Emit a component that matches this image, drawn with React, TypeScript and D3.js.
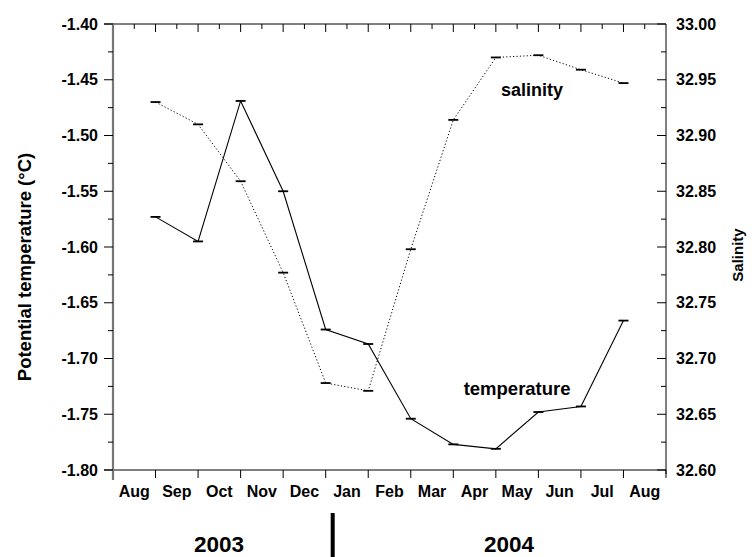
import React from "react";
import * as d3 from "d3";

const months = ["Aug", "Sep", "Oct", "Nov", "Dec", "Jan", "Feb", "Mar", "Apr", "May", "Jun", "Jul", "Aug"];
const sampleIndex = [1, 2, 3, 4, 5, 6, 7, 8, 9, 10, 11, 12];
const temperature = [-1.573, -1.595, -1.469, -1.55, -1.674, -1.687, -1.754, -1.777, -1.781, -1.748, -1.743, -1.666];
const salinity = [32.93, 32.91, 32.859, 32.777, 32.678, 32.671, 32.798, 32.914, 32.97, 32.972, 32.959, 32.947];
const tempTicks = [-1.4, -1.45, -1.5, -1.55, -1.6, -1.65, -1.7, -1.75, -1.8];
const salTicks = [33.0, 32.95, 32.9, 32.85, 32.8, 32.75, 32.7, 32.65, 32.6];
const years = ["2003", "2004"];

const W = 756;
const H = 557;
const left = 113;
const right = 666;
const top = 24;
const bottom = 470;
const FONT = "'Liberation Sans', Arial, sans-serif";

export default function App() {
  const x = d3.scaleLinear().domain([0, months.length]).range([left, right]);
  const yT = d3.scaleLinear().domain([-1.8, -1.4]).range([bottom, top]);
  const yS = d3.scaleLinear().domain([32.6, 33.0]).range([bottom, top]);

  const tempLine = d3
    .line<number>()
    .x((_, i) => x(sampleIndex[i]))
    .y((d) => yT(d));
  const salLine = d3
    .line<number>()
    .x((_, i) => x(sampleIndex[i]))
    .y((d) => yS(d));

  const monthBounds = d3.range(0, months.length + 1);
  const halfBounds = d3.range(0, months.length).map((i) => i + 0.5);
  const tMinor = d3.range(0, 8).map((i) => -1.8 + 0.025 + i * 0.05);
  const sMinor = d3.range(0, 8).map((i) => 32.6 + 0.025 + i * 0.05);

  return (
    <svg
      width={W}
      height={H}
      style={{ position: "absolute", left: 0, top: 0, background: "#fff" }}
      fontFamily={FONT}
      fontWeight="bold"
    >
      <rect x={0} y={0} width={W} height={H} fill="#fff" />
      {/* top axis */}
      <line x1={left - 9} x2={right} y1={top} y2={top} stroke="#000" strokeWidth={1} />
      {monthBounds.slice(1, -1).map((m) => (
        <line key={"tt" + m} x1={x(m)} x2={x(m)} y1={top} y2={top + 8} stroke="#000" />
      ))}
      {halfBounds.map((m) => (
        <line key={"th" + m} x1={x(m)} x2={x(m)} y1={top} y2={top + 5} stroke="#000" />
      ))}
      {/* bottom axis */}
      <line x1={left - 9} x2={right} y1={bottom} y2={bottom} stroke="#000" strokeWidth={1} />
      {monthBounds.slice(1, -1).map((m) => (
        <line key={"bt" + m} x1={x(m)} x2={x(m)} y1={bottom} y2={bottom + 8} stroke="#000" />
      ))}
      <line x1={right} x2={right} y1={bottom} y2={bottom + 8} stroke="#000" />
      {months.map((m, i) => (
        <text key={"ml" + i} x={x(i + 0.5)} y={497} textAnchor="middle" fontSize={16}>
          {m}
        </text>
      ))}
      {/* left axis */}
      <line x1={left} x2={left} y1={top - 1} y2={bottom + 10} stroke="#777" strokeWidth={2.2} />
      {tempTicks.map((t) => (
        <g key={"lt" + t}>
          <line x1={left - 9} x2={left} y1={yT(t)} y2={yT(t)} stroke="#000" />
          <text x={98} y={yT(t)} dy="0.35em" textAnchor="end" fontSize={16}>
            {d3.format(".2f")(t).replace("−", "-")}
          </text>
        </g>
      ))}
      {tMinor.map((t) => (
        <line key={"lm" + t} x1={left - 5} x2={left} y1={yT(t)} y2={yT(t)} stroke="#000" />
      ))}
      {/* right axis */}
      <line x1={right} x2={right} y1={top} y2={bottom + 4} stroke="#000" strokeWidth={1} />
      {salTicks.map((t) => (
        <g key={"rt" + t}>
          <line x1={right - 9} x2={right} y1={yS(t)} y2={yS(t)} stroke="#000" />
          <text x={676} y={yS(t)} dy="0.35em" textAnchor="start" fontSize={16}>
            {d3.format(".2f")(t)}
          </text>
        </g>
      ))}
      {sMinor.map((t) => (
        <line key={"rm" + t} x1={right - 5} x2={right} y1={yS(t)} y2={yS(t)} stroke="#000" />
      ))}
      {/* axis titles */}
      <text
        transform={`translate(31, ${(top + bottom) / 2 + 20}) rotate(-90)`}
        textAnchor="middle"
        fontSize={18.5}
      >
        Potential temperature (°C)
      </text>
      <text
        transform={`translate(743, ${(top + bottom) / 2 + 8}) rotate(-90)`}
        textAnchor="middle"
        fontSize={15}
      >
        Salinity
      </text>
      {/* series */}
      <path d={salLine(salinity) || ""} fill="none" stroke="#000" strokeWidth={1} strokeDasharray="1.2,2.2" />
      <path d={tempLine(temperature) || ""} fill="none" stroke="#000" strokeWidth={1.1} />
      {salinity.map((v, i) => (
        <line
          key={"sm" + i}
          x1={x(sampleIndex[i]) - 5}
          x2={x(sampleIndex[i]) + 5}
          y1={yS(v)}
          y2={yS(v)}
          stroke="#000"
          strokeWidth={1.8}
        />
      ))}
      {temperature.map((v, i) => (
        <line
          key={"tm" + i}
          x1={x(sampleIndex[i]) - 5}
          x2={x(sampleIndex[i]) + 5}
          y1={yT(v)}
          y2={yT(v)}
          stroke="#000"
          strokeWidth={1.8}
        />
      ))}
      {/* series labels */}
      <text x={x(9.85)} y={96} textAnchor="middle" fontSize={18}>
        salinity
      </text>
      <text x={x(9.5)} y={395} textAnchor="middle" fontSize={18.5}>
        temperature
      </text>
      {/* year labels and separator */}
      <rect x={x(5) + 5} y={513} width={4} height={H - 513} fill="#000" />
      <text x={x(2.49)} y={551.5} textAnchor="middle" fontSize={22.5}>
        {years[0]}
      </text>
      <text x={x(9.31)} y={551.5} textAnchor="middle" fontSize={22.5}>
        {years[1]}
      </text>
    </svg>
  );
}
